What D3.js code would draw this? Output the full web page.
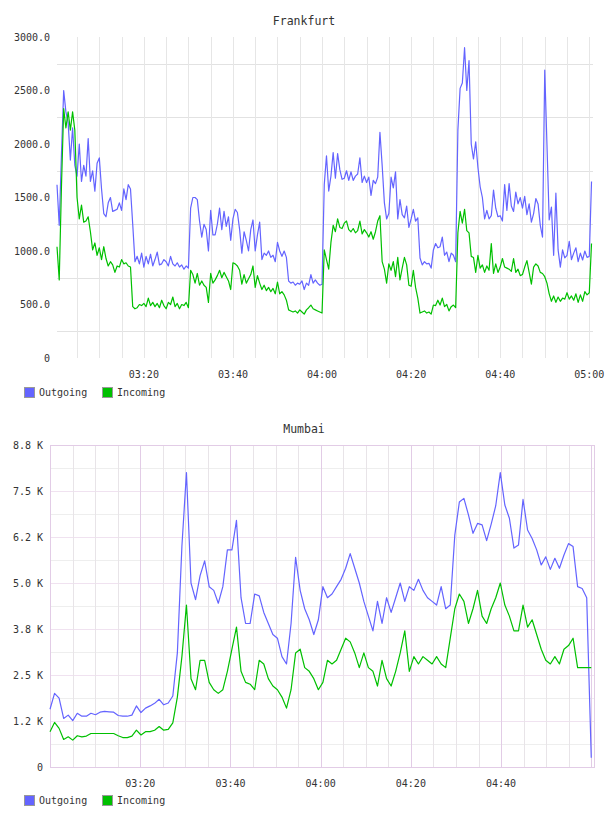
<!DOCTYPE html>
<html>
<head>
<meta charset="utf-8">
<script src="https://cdn.jsdelivr.net/npm/d3@7/dist/d3.min.js"></script>
<style>
  body { margin: 0; background: #fff; }
  text { font-family: "DejaVu Sans Mono", monospace; fill: #333; }
</style>
</head>
<body>
<svg id="mainSVG" width="608" height="816"></svg>
<script>
// ---- data ----
var frankfurtStart = "03:00:30";
var frankfurtStepSec = 30;
var frankfurtOutgoing = [
  1620,1240,1900,2500,2300,2200,1850,2150,1800,1700,
  2000,1650,1800,1700,2050,1650,1750,1560,1820,1870,
  1580,1350,1320,1450,1500,1370,1380,1390,1450,1380,
  1580,1480,1620,1580,1250,900,950,880,980,850,
  950,880,970,860,920,990,870,880,920,900,
  860,950,880,860,890,850,870,830,860,840,
  1400,1500,1500,1480,1280,1130,1250,1200,1000,1380,
  1150,1150,1250,1400,1200,1370,1230,1320,1100,1300,
  1390,1360,1200,980,1180,1100,1000,1200,1290,1000,
  1150,1270,920,980,960,1000,940,960,900,1080,
  1000,950,1000,940,720,700,710,680,700,690,
  720,640,700,680,780,700,730,700,680,690,
  1620,1890,1560,1700,1920,1680,1910,1760,1670,1680,
  1750,1660,1740,1660,1700,1720,1870,1640,1700,1640,
  1690,1520,1660,1630,1690,2110,1800,1450,1300,1350,
  1690,1590,1740,1300,1480,1340,1310,1420,1220,1300,
  1390,1280,1310,935,870,900,880,885,840,1010,
  1070,1030,1040,1130,960,990,900,980,960,900,
  2130,2520,2570,2900,2500,2780,2000,1860,2020,1780,
  1600,1500,1300,1380,1300,1330,1570,1400,1320,1330,
  1280,1620,1380,1630,1420,1370,1550,1440,1500,1400,
  1510,1340,1440,1270,1350,1490,1440,1240,1130,2690,
  1990,1290,1410,960,1540,1010,850,1010,935,960,
  1090,920,980,1030,900,980,916,1000,940,950,
  1650
];
var frankfurtIncoming = [
  1040,730,1600,2330,2150,2300,2130,2300,2130,1500,
  1300,1430,1270,1280,1320,1180,1010,1075,960,1030,
  920,1040,930,860,900,870,800,860,850,920,
  880,890,860,850,480,460,470,500,490,510,
  480,560,490,520,480,510,470,540,490,460,
  520,500,570,480,510,460,500,490,520,470,
  820,780,700,790,680,720,680,660,520,790,
  700,730,770,820,750,800,760,720,640,890,
  880,860,820,690,780,700,740,780,860,660,
  770,700,640,680,630,660,620,650,600,710,
  600,620,590,540,450,440,430,440,420,450,
  430,410,450,470,495,460,450,440,430,420,
  1010,920,830,1080,1240,1180,1300,1220,1210,1260,
  1280,1200,1180,1210,1170,1190,1280,1160,1200,1170,
  1130,1180,1110,1180,1280,1330,900,830,700,880,
  820,900,760,940,730,840,940,870,680,670,
  820,660,560,420,430,440,420,430,410,495,
  490,540,495,560,480,500,440,480,495,470,
  1170,1370,1260,1390,1190,1170,950,940,800,960,
  840,870,800,860,820,1070,790,880,800,850,
  930,850,840,830,810,930,800,830,770,780,
  850,910,800,690,850,880,860,800,790,760,
  700,600,530,580,520,570,530,560,550,610,
  550,580,540,600,520,590,530,620,590,610,
  1070
];
var frankfurtYTicks = [0, 500, 1000, 1500, 2000, 2500, 3000];
var frankfurtYLabels = ["0", "500.0", "1000.0", "1500.0", "2000.0", "2500.0", "3000.0"];
var frankfurtTimeLabels = ["03:20", "03:40", "04:00", "04:20", "04:40", "05:00"];

var mumbaiStart = "03:00:00";
var mumbaiStepSec = 60.5;
var mumbaiOutgoing = [
  1570,2000,1870,1320,1410,1260,1460,1380,1380,1460,
  1420,1490,1510,1500,1490,1400,1380,1380,1410,1660,
  1480,1600,1660,1730,1840,1690,1740,1930,3100,6000,
  8000,5000,4550,5200,5600,4900,4800,4450,4900,5900,
  5900,6700,4600,3900,3900,4700,4650,4200,3900,3600,
  3500,3000,2800,3900,5700,4800,4300,4000,3600,4000,
  4900,4600,4700,4900,5100,5400,5800,5400,5000,4500,
  4100,3700,4500,3900,4600,4200,4600,5000,4500,4900,
  4800,5100,4800,4600,4500,4400,4900,4300,4400,6300,
  7200,7300,6850,6350,6620,6580,6150,6600,7100,8000,
  7120,6760,5950,6030,7270,6440,6210,5900,5490,5710,
  5370,5670,5400,5760,6070,5990,4900,4850,4600,250
];
var mumbaiIncoming = [
  960,1210,1050,750,820,730,850,820,840,910,
  910,910,910,910,910,850,800,800,840,1000,
  870,960,960,1000,1100,1000,1020,1200,1900,3000,
  4400,2400,2100,2900,2900,2300,2100,2000,2100,2600,
  3200,3800,2600,2300,2250,2100,2900,2800,2400,2200,
  2100,1900,1600,2100,3100,3200,2700,2600,2400,2100,
  2300,2900,2800,2900,3200,3500,3400,3100,2700,3100,
  2700,2600,2200,2900,2400,2200,2600,3100,3700,2600,
  3000,2800,3000,2900,2800,3000,2800,2700,3500,4300,
  4700,4500,3900,4300,4800,4100,3900,4300,4600,5000,
  4400,4100,3700,3700,4400,3800,4000,3600,3200,2900,
  2800,3000,2800,3200,3300,3500,2700,2700,2700,2700
];
var mumbaiYTicks = [0, 1250, 2500, 3750, 5000, 6250, 7500, 8750];
var mumbaiYLabels = ["0", "1.2 K", "2.5 K", "3.8 K", "5.0 K", "6.2 K", "7.5 K", "8.8 K"];
var mumbaiTimeLabels = ["03:20", "03:40", "04:00", "04:20", "04:40"];

var seriesNames = ["Outgoing", "Incoming"];
var seriesColors = ["#6464ff", "#00c000"];

// ---- helpers ----
var parseTime = d3.timeParse("%H:%M:%S");
var parseHM = d3.timeParse("%H:%M");
var mainSVG = d3.select("#mainSVG");

function toSeries(start, step, values) {
  var t0 = parseTime(start);
  return values.map((v, i) => ({ t: new Date(+t0 + i * step * 1000), v: v }));
}

function drawLegend(y) {
  var g = mainSVG.append("g").attr("transform", "translate(24," + y + ")");
  var items = g.selectAll("g").data(seriesNames).enter().append("g")
    .attr("transform", (d, i) => "translate(" + (i * 78) + ",0)");
  items.append("rect")
    .attr("x", 0.5).attr("y", 0.5)
    .attr("width", 10).attr("height", 10)
    .attr("fill", (d, i) => seriesColors[i])
    .attr("stroke", "#999");
  items.append("text")
    .attr("x", 15).attr("y", 9)
    .style("font-size", "10px")
    .text(d => d);
}

function drawChart(cfg) {
  var x = d3.scaleTime().domain(cfg.xDomain).range([cfg.left, cfg.right]);
  var y = d3.scaleLinear().domain([0, cfg.yMax]).range([cfg.bottom, cfg.top]);
  var g = mainSVG.append("g");

  // title
  g.append("text")
    .attr("x", 304).attr("y", cfg.top - 12)
    .attr("text-anchor", "middle")
    .style("font-size", "11.5px")
    .text(cfg.title);

  // horizontal grid
  g.append("g").selectAll("line")
    .data(cfg.hGrid).enter().append("line")
    .attr("x1", cfg.left).attr("x2", cfg.right)
    .attr("y1", d => Math.round(y(d.v)) + 0.5)
    .attr("y2", d => Math.round(y(d.v)) + 0.5)
    .attr("stroke", d => d.c);

  // vertical grid, every 5 minutes
  var vTicks = d3.timeMinute.every(5).range(cfg.xDomain[0], cfg.xDomain[1]);
  g.append("g").selectAll("line")
    .data(vTicks).enter().append("line")
    .attr("x1", d => Math.round(x(d)) + 0.5)
    .attr("x2", d => Math.round(x(d)) + 0.5)
    .attr("y1", cfg.top).attr("y2", cfg.bottom)
    .attr("stroke", d => (d.getMinutes() % 20 === 0) ? cfg.vMajor : cfg.vMinor);

  if (cfg.border) {
    g.append("rect")
      .attr("x", cfg.left + 0.5).attr("y", cfg.top + 0.5)
      .attr("width", cfg.right - cfg.left).attr("height", cfg.bottom - cfg.top)
      .attr("fill", "none").attr("stroke", cfg.border);
  }

  // y labels
  g.append("g").selectAll("text")
    .data(cfg.yTicks).enter().append("text")
    .attr("x", cfg.left - 7)
    .attr("y", d => y(d))
    .attr("dy", "0.35em")
    .attr("text-anchor", "end")
    .style("font-size", "10px")
    .text((d, i) => cfg.yLabels[i]);

  // x labels
  g.append("g").selectAll("text")
    .data(cfg.xLabels).enter().append("text")
    .attr("x", d => x(parseHM(d)))
    .attr("y", cfg.bottom + 20)
    .attr("text-anchor", "middle")
    .style("font-size", "10px")
    .text(d => d);

  // lines
  var line = d3.line().x(d => x(d.t)).y(d => y(d.v));
  g.append("g").selectAll("path")
    .data(cfg.series).enter().append("path")
    .attr("d", d => line(d))
    .attr("fill", "none")
    .attr("stroke", (d, i) => seriesColors[i])
    .attr("stroke-width", 1.2)
    .attr("stroke-linejoin", "round");

  drawLegend(cfg.legendY);
}

// Frankfurt
drawChart({
  title: "Frankfurt",
  left: 57, right: 593, top: 37, bottom: 358,
  xDomain: [parseTime("03:00:30"), parseTime("05:00:50")],
  yMax: 3000,
  yTicks: frankfurtYTicks, yLabels: frankfurtYLabels,
  xLabels: frankfurtTimeLabels,
  hGrid: [250, 750, 1250, 1750, 2250, 2750].map(v => ({ v: v, c: "#e2e2e2" })),
  vMajor: "#e6e6e6", vMinor: "#e6e6e6",
  border: null,
  series: [
    toSeries(frankfurtStart, frankfurtStepSec, frankfurtOutgoing),
    toSeries(frankfurtStart, frankfurtStepSec, frankfurtIncoming)
  ],
  legendY: 387
});

// Mumbai
drawChart({
  title: "Mumbai",
  left: 50, right: 594, top: 445, bottom: 767,
  xDomain: [parseTime("03:00:00"), parseTime("05:00:36")],
  yMax: 8750,
  yTicks: mumbaiYTicks, yLabels: mumbaiYLabels,
  xLabels: mumbaiTimeLabels,
  hGrid: d3.range(1, 14).map(k => ({ v: k * 625, c: (k % 2 === 0) ? "#f0e2f0" : "#eeeeee" })),
  vMajor: "#e2cce6", vMinor: "#e8e4e8",
  border: "#e2cce6",
  series: [
    toSeries(mumbaiStart, mumbaiStepSec, mumbaiOutgoing),
    toSeries(mumbaiStart, mumbaiStepSec, mumbaiIncoming)
  ],
  legendY: 795
});
</script>
</body>
</html>
